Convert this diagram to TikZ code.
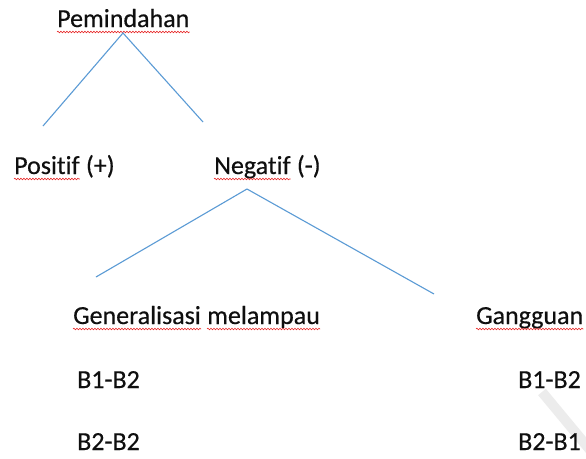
\documentclass[tikz,border=0pt]{standalone}
\usepackage{fontspec}
\setmainfont[Ligatures=NoCommon,FakeBold=0.4]{Carlito}
\usetikzlibrary{decorations.pathmorphing,calc}
\definecolor{lineblue}{RGB}{91,155,213}
\definecolor{spellred}{RGB}{232,40,40}
\definecolor{textblack}{RGB}{15,15,15}
\definecolor{wmgray}{RGB}{236,236,236}
\begin{document}
\begin{tikzpicture}[x=1pt,y=-1pt,
  lbl/.style={anchor=base west,inner sep=0pt,text=textblack,font=\fontsize{26}{30}\selectfont},
  conn/.style={draw=lineblue,line width=1.1pt},
  squig/.style={draw=spellred,line width=0.6pt,decorate,decoration={snake,amplitude=0.8pt,segment length=3pt}},
  wm/.style={draw=wmgray,line width=10pt}]
\useasboundingbox[fill=white] (0,0) rectangle (586,458);
% faint watermark stroke
\begin{scope}
  \clip (0,0) rectangle (586,458);
  \coordinate (wmA) at (542,392);
  \coordinate (wmB) at (610,474);
  \draw[wm] (wmA) -- (wmB);
\end{scope}
% texts
\node[lbl] (pem) at (57,27) {Pemindahan};
\node[lbl] (pos) at (14,174) {Positif};
\node[lbl] (posx) at ($(pos.base east)+(6,0)$) {(+)};
\node[lbl] (neg) at (214,174) {Negatif};
\node[lbl] (negx) at ($(neg.base east)+(6,0)$) {(-)};
\node[lbl] (gen) at (73,324) {Generalisasi};
\node[lbl] (mel) at ($(gen.base east)+(6,0)$) {melampau};
\node[lbl] (gang) at (476,324) {Gangguan};
\node[lbl] (b1l) at (77,388) {B1-B2};
\node[lbl] (b2l) at (77,450) {B2-B2};
\node[lbl] (b1r) at (518,388) {B1-B2};
\node[lbl] (b2r) at (518,450) {B2-B1};
% spell-check underlines
\foreach \w in {pem,pos,neg,gen,mel,gang}{
  \draw[squig] ($(\w.base west)+(0,5)$) -- ($(\w.base east)+(0,5)$);
}
% connectors
\coordinate (pemfoot) at (123,33);
\coordinate (posend) at (43,126);
\coordinate (negend) at (203,122);
\draw[conn] (posend) -- (pemfoot) -- (negend);
\coordinate (negfoot) at (247,189);
\coordinate (genend) at (96,277);
\coordinate (gangend) at (434,294);
\draw[conn] (genend) -- (negfoot) -- (gangend);
\end{tikzpicture}
\end{document}
